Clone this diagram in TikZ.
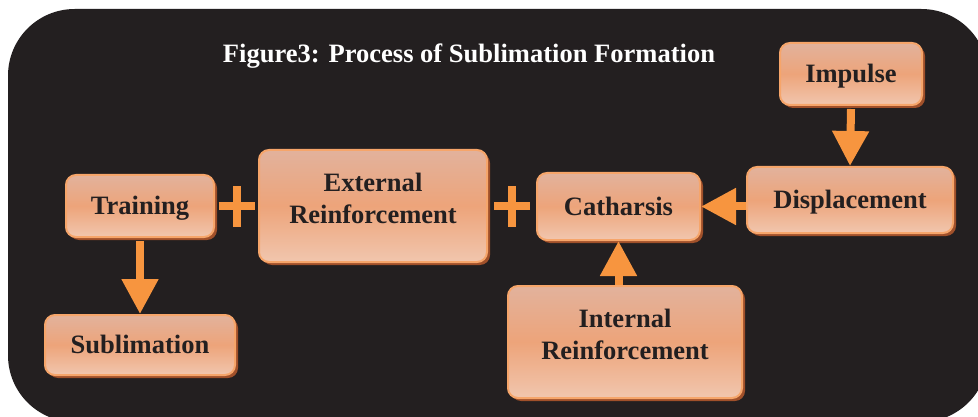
\documentclass[tikz,border=0pt]{standalone}
\usepackage{fontspec}
\setmainfont{Liberation Serif}
\usetikzlibrary{arrows.meta,shadows}
\definecolor{bgdark}{HTML}{231F20}
\definecolor{arrowor}{HTML}{F7953F}
\definecolor{boxborder}{HTML}{F6A56A}
\definecolor{boxshadow}{HTML}{A0502A}
\definecolor{boxtop}{HTML}{E2B29C}
\definecolor{boxmid}{HTML}{EDA47A}
\definecolor{boxbot}{HTML}{F1C6AE}
\definecolor{txt}{HTML}{231F20}
\begin{document}
\begin{tikzpicture}[x=0.75pt,y=-0.75pt,
  stagebox/.style={draw=boxborder, line width=1.5pt, rounded corners=7.5pt,
    top color=boxtop, bottom color=boxbot, middle color=boxmid,
    drop shadow={shadow xshift=2.25pt, shadow yshift=-2.25pt, fill=boxshadow, opacity=1},
    text=txt, font=\bfseries\fontsize{19.9}{23.6}\selectfont, align=center, inner sep=1.5pt,
    text height=13.2pt, text depth=0pt},
  twoline/.style={text height=36.8pt, text depth=11.2pt},
  bigarrow/.style={draw=arrowor, line width=6pt,
    -{Triangle[width=26.25pt,length=26.25pt]}, fill=arrowor},
  plusline/.style={draw=arrowor, line width=6pt}]
\useasboundingbox (0,0) rectangle (978,417);
\fill[white] (0,0) rectangle (978,417);
\fill[bgdark, rounded corners=50pt] (8,9) rectangle (988,422);
\node[text=white, font=\bfseries\fontsize{19.9}{24}\selectfont, text height=13.2pt, text depth=0pt] (title) at (469,54) {Figure3: Process of Sublimation Formation};
\node[stagebox, minimum width=106.5pt, minimum height=46.5pt] (impulse) at (851,74) {Impulse};
\node[stagebox, minimum width=154.5pt, minimum height=49.5pt] (displacement) at (850,200) {Displacement};
\node[stagebox, minimum width=122.25pt, minimum height=50.25pt] (catharsis) at (618.5,206.5) {Catharsis};
\node[stagebox, twoline, minimum width=175.5pt, minimum height=84pt] (internal) at (625,342) {Internal\\Reinforcement};
\node[stagebox, twoline, minimum width=171pt, minimum height=84pt] (external) at (373,206) {External\\Reinforcement};
\node[stagebox, minimum width=111pt, minimum height=46.5pt] (training) at (140,206) {Training};
\node[stagebox, minimum width=142.5pt, minimum height=45pt] (sublimation) at (140,345) {Sublimation};
\draw[bigarrow] ([yshift=-2.25pt]impulse.south) -- (displacement.north);
\draw[bigarrow] ([yshift=-2.25pt]training.south) -- (sublimation.north);
\draw[bigarrow] (internal.north -| catharsis.south) -- (catharsis.south);
\draw[bigarrow] (displacement.west |- catharsis.east) -- (catharsis.east);
\path (training.east) -- (external.west) coordinate[midway] (p1);
\path (external.east) -- (catharsis.west) coordinate[midway] (p2);
\draw[plusline] ([shift={(-18,0)}]p1) -- ([shift={(18,0)}]p1)
                ([shift={(0,-20)}]p1) -- ([shift={(0,21)}]p1);
\draw[plusline] ([shift={(-18,0)}]p2) -- ([shift={(18,0)}]p2)
                ([shift={(0,-20)}]p2) -- ([shift={(0,21)}]p2);
\end{tikzpicture}
\end{document}
